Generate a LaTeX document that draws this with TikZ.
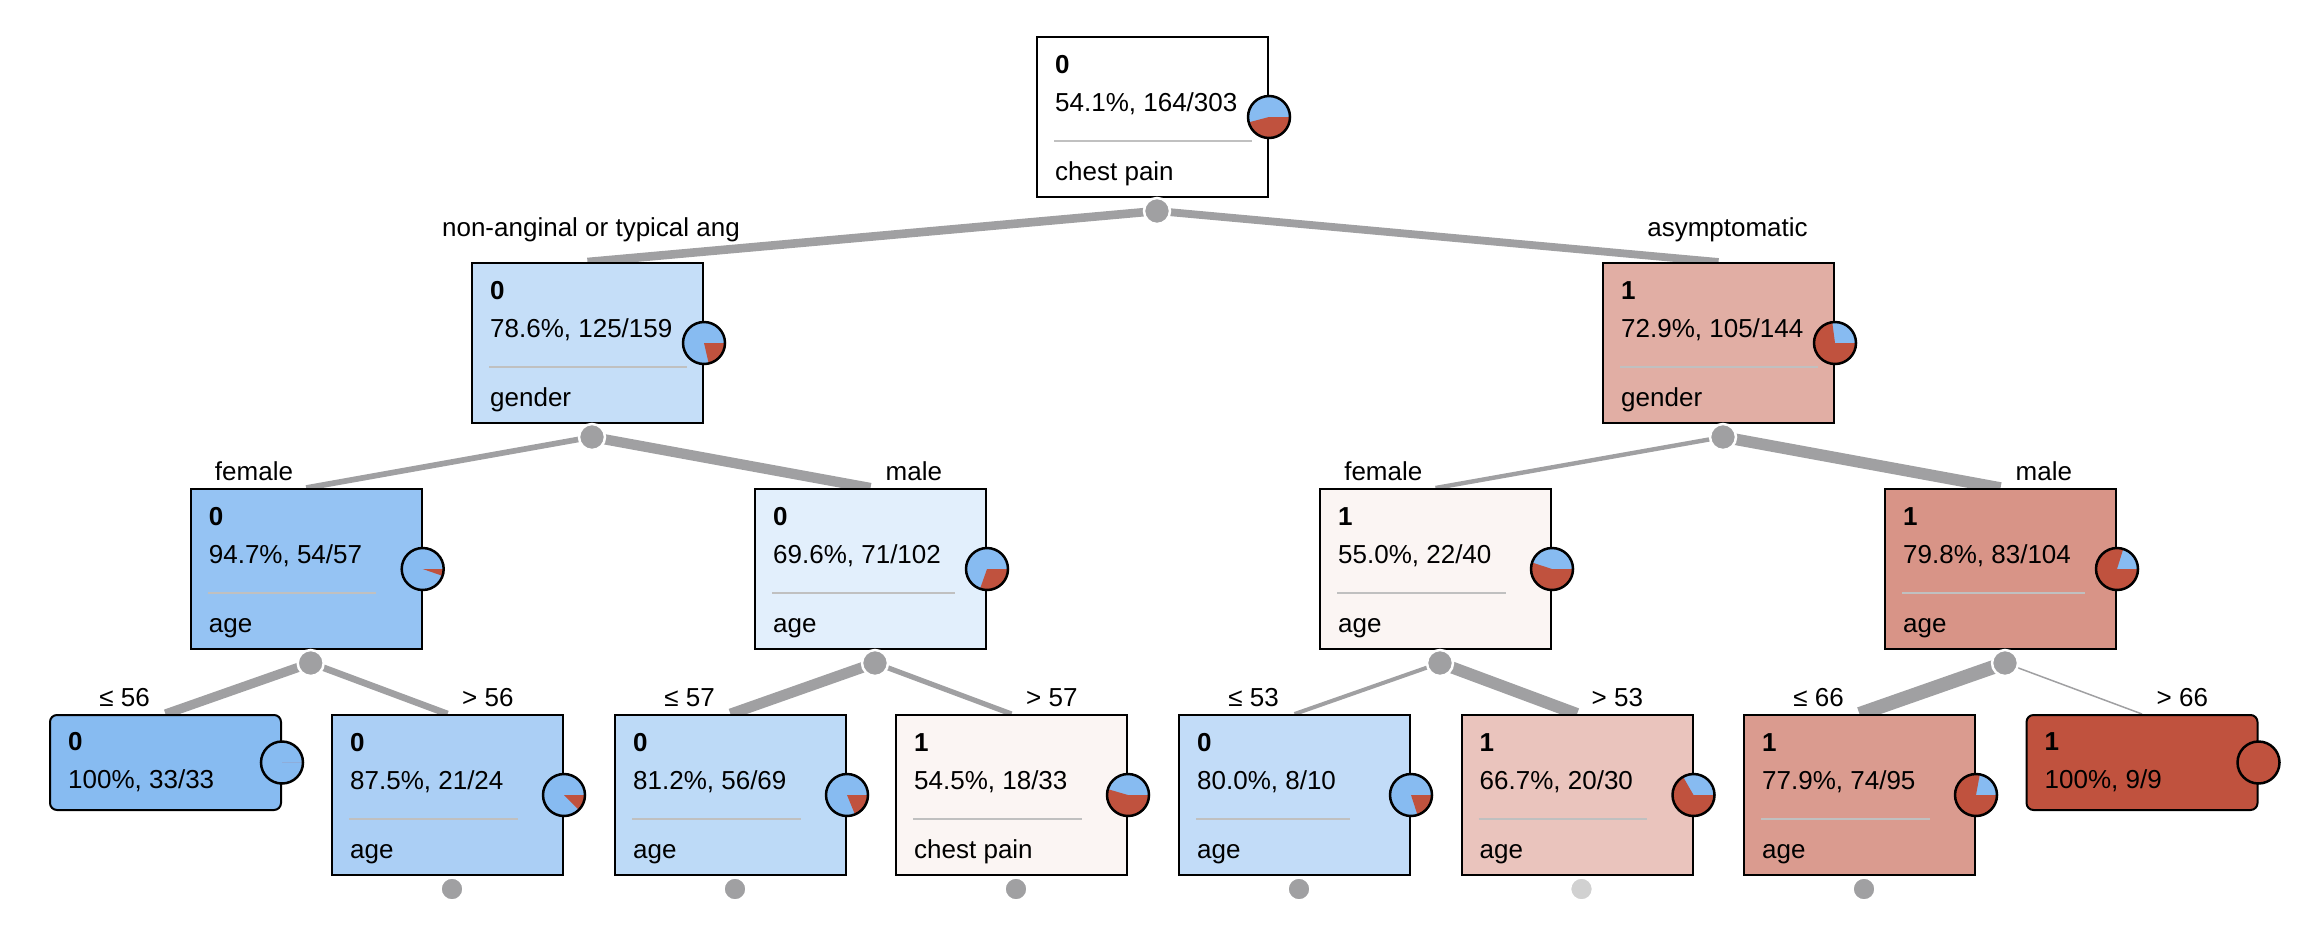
\documentclass[tikz,border=0pt]{standalone}
\usepackage{fontspec}
\setmainfont{Liberation Sans}
\usetikzlibrary{calc}
\definecolor{c0}{RGB}{135,187,241}
\definecolor{c1}{RGB}{192,82,62}
\definecolor{edgegray}{RGB}{160,160,162}
\definecolor{sepgray}{RGB}{192,192,192}
\pgfdeclarelayer{bg}
\pgfsetlayers{bg,main}
\tikzset{
  ibox/.style={rectangle, draw=black, line width=2, minimum width=231, minimum height=160, inner sep=0},
  lbox/.style={ibox, minimum height=95, rounded corners=7},
  txt/.style={inner sep=0, anchor=base west, font=\fontsize{26}{30}\selectfont},
  btxt/.style={txt, font=\fontsize{26}{30}\selectfont\bfseries},
  lbl/.style={inner sep=0, font=\fontsize{26}{30}\selectfont},
  sepline/.style={draw=sepgray, line width=2},
  conn/.style={draw=edgegray, line cap=butt},
  splitdot/.style={circle, fill=edgegray, draw=white, line width=2.5, minimum size=26, inner sep=0},
  enddot/.style={circle, fill=edgegray, draw=white, line width=2.5, minimum size=23, inner sep=0},
}
\newcommand\drawpie[2]{%
  \fill[c0] (#1.east) circle[radius=21];
  \fill[c1] (#1.east) -- ++(0:21) arc[start angle=0, end angle={360*#2}, radius=21] -- cycle;
  \draw[line width=2.5] (#1.east) circle[radius=21];
}
\newcommand\ibx[8]{%
  \node[ibox, fill=#4] (#1) at ({#2},{#3+80}) {};
  \node[btxt] (#1-k) at ($(#1.north west)+(19,37)$) {#5};
  \node[txt] (#1-s) at ($(#1.north west)+(19,75)$) {#6};
  \draw[sepline] ($(#1-s.base west)+(-1,30)$) -- ($(#1-s.base east)+(14,30)$);
  \node[txt] (#1-f) at ($(#1.north west)+(19,144)$) {#7};
  \drawpie{#1}{#8}
}
\newcommand\lbx[7]{%
  \node[lbox, fill=#4] (#1) at ({#2},{#3+47.5}) {};
  \node[btxt] (#1-k) at ($(#1.north west)+(19,36)$) {#5};
  \node[txt] (#1-s) at ($(#1.north west)+(19,74)$) {#6};
  \drawpie{#1}{#7}
}
\begin{document}
\begin{tikzpicture}[x=1pt, y=-1pt]
\useasboundingbox (0,0) rectangle (2320,930);
% level 0
\ibx{r}{1152.5}{37}{white}{0}{54.1\%, 164/303}{chest pain}{0.459}
% level 1
\ibx{a}{587.5}{263}{c0!48!white}{0}{78.6\%, 125/159}{gender}{0.214}
\ibx{b}{1718.5}{263}{c1!47!white}{1}{72.9\%, 105/144}{gender}{0.729}
% level 2
\ibx{aa}{306.2}{489}{c0!88!white}{0}{94.7\%, 54/57}{age}{0.053}
\ibx{ab}{870.5}{489}{c0!24!white}{0}{69.6\%, 71/102}{age}{0.304}
\ibx{ba}{1435.5}{489}{c1!6!white}{1}{55.0\%, 22/40}{age}{0.55}
\ibx{bb}{2000.5}{489}{c1!62!white}{1}{79.8\%, 83/104}{age}{0.798}
% level 3
\lbx{aaa}{165.5}{715}{c0}{0}{100\%, 33/33}{0}
\ibx{aab}{447.5}{715}{c0!70!white}{0}{87.5\%, 21/24}{age}{0.125}
\ibx{aba}{730.5}{715}{c0!55!white}{0}{81.2\%, 56/69}{age}{0.188}
\ibx{abb}{1011.5}{715}{c1!6!white}{1}{54.5\%, 18/33}{chest pain}{0.545}
\ibx{baa}{1294.5}{715}{c0!51!white}{0}{80.0\%, 8/10}{age}{0.2}
\ibx{bab}{1577}{715}{c1!34!white}{1}{66.7\%, 20/30}{age}{0.667}
\ibx{bba}{1859.5}{715}{c1!58!white}{1}{77.9\%, 74/95}{age}{0.779}
\lbx{bbb}{2142}{715}{c1}{1}{100\%, 9/9}{1}
% split dots
\node[splitdot] (rd) at ($(r.south)+(4.5,13)$) {};
\node[splitdot] (ad) at ($(a.south)+(4.5,13)$) {};
\node[splitdot] (bd) at ($(b.south)+(4.5,13)$) {};
\node[splitdot] (aad) at ($(aa.south)+(4.5,13)$) {};
\node[splitdot] (abd) at ($(ab.south)+(4.5,13)$) {};
\node[splitdot] (bad) at ($(ba.south)+(4.5,13)$) {};
\node[splitdot] (bbd) at ($(bb.south)+(4.5,13)$) {};
% end dots
\node[enddot] (aabd) at ($(aab.south)+(4.5,13)$) {};
\node[enddot] (abad) at ($(aba.south)+(4.5,13)$) {};
\node[enddot] (abbd) at ($(abb.south)+(4.5,13)$) {};
\node[enddot] (baad) at ($(baa.south)+(4.5,13)$) {};
\node[enddot, fill=black!18] (babd) at ($(bab.south)+(4.5,13)$) {};
\node[enddot] (bbad) at ($(bba.south)+(4.5,13)$) {};
% connectors
\begin{pgfonlayer}{bg}
\draw[conn, line width=8.6] (rd.center) -- (a.north);
\draw[conn, line width=7.8] (rd.center) -- (b.north);
\draw[conn, line width=5.7] (ad.center) -- (aa.north);
\draw[conn, line width=10.3] (ad.center) -- (ab.north);
\draw[conn, line width=4.4] (bd.center) -- (ba.north);
\draw[conn, line width=11.6] (bd.center) -- (bb.north);
\draw[conn, line width=9.3] (aad.center) -- (aaa.north);
\draw[conn, line width=6.7] (aad.center) -- (aab.north);
\draw[conn, line width=10.8] (abd.center) -- (aba.north);
\draw[conn, line width=5.2] (abd.center) -- (abb.north);
\draw[conn, line width=4.0] (bad.center) -- (baa.north);
\draw[conn, line width=12] (bad.center) -- (bab.north);
\draw[conn, line width=14] (bbd.center) -- (bba.north);
\draw[conn, line width=1.5] (bbd.center) -- (bbb.north);
\end{pgfonlayer}
% edge labels
\node[lbl, anchor=base] (la) at (591,236) {non-anginal or typical ang};
\node[lbl, anchor=base] (lb) at (1727.5,236) {asymptomatic};
\node[lbl, anchor=base east] (laa) at ($(aa.north)+(-13,-8)$) {female};
\node[lbl, anchor=base west] (lab) at ($(ab.north)+(15,-8)$) {male};
\node[lbl, anchor=base east] (lba) at ($(ba.north)+(-13,-8)$) {female};
\node[lbl, anchor=base west] (lbb) at ($(bb.north)+(15,-8)$) {male};
\node[lbl, anchor=base east] (laaa) at ($(aaa.north)+(-15.5,-8)$) {≤ 56};
\node[lbl, anchor=base west] (laab) at ($(aab.north)+(14.5,-8)$) {> 56};
\node[lbl, anchor=base east] (laba) at ($(aba.north)+(-15.5,-8)$) {≤ 57};
\node[lbl, anchor=base west] (labb) at ($(abb.north)+(14.5,-8)$) {> 57};
\node[lbl, anchor=base east] (lbaa) at ($(baa.north)+(-15.5,-8)$) {≤ 53};
\node[lbl, anchor=base west] (lbab) at ($(bab.north)+(14.5,-8)$) {> 53};
\node[lbl, anchor=base east] (lbba) at ($(bba.north)+(-15.5,-8)$) {≤ 66};
\node[lbl, anchor=base west] (lbbb) at ($(bbb.north)+(14.5,-8)$) {> 66};
\end{tikzpicture}
\end{document}
